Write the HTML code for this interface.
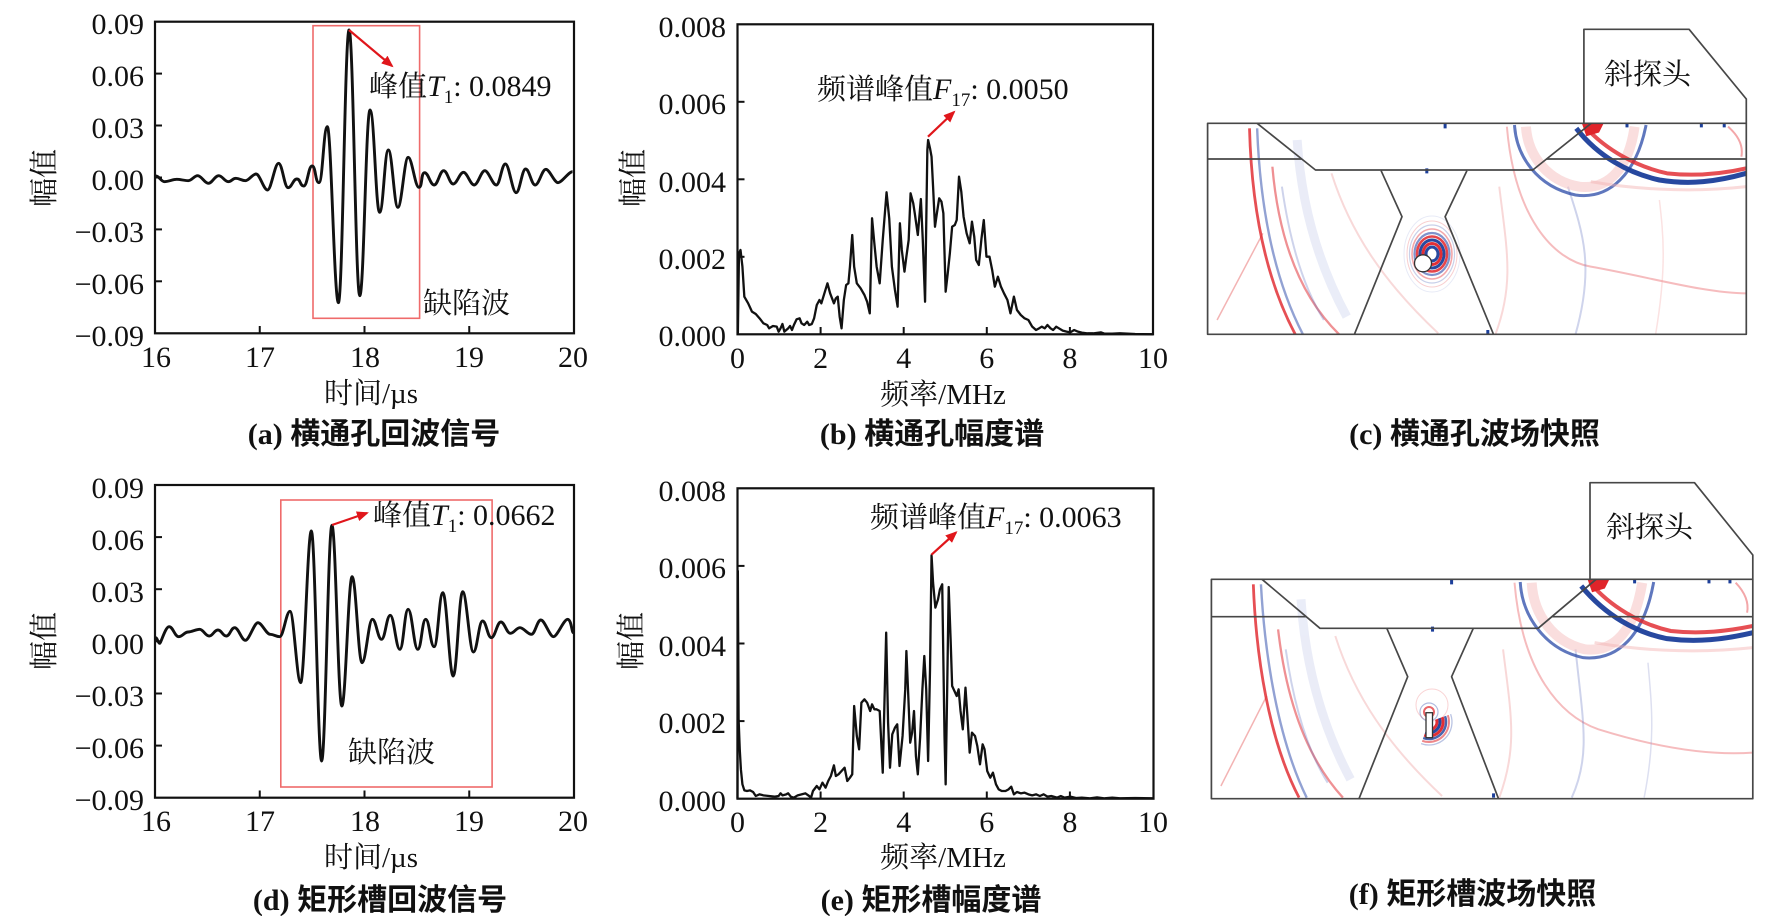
<!DOCTYPE html>
<html><head><meta charset="utf-8">
<style>
html,body{margin:0;padding:0;background:#fff;}
svg{display:block;}
.tk{font-family:"Liberation Serif",serif;font-size:30px;fill:#111;}
.cj{font-family:"Liberation Serif","Noto Serif CJK SC",serif;font-size:29px;fill:#111;}
.it{font-family:"Liberation Serif",serif;font-style:italic;}
.cap{font-family:"Liberation Serif","Noto Sans CJK SC",sans-serif;font-size:30px;font-weight:bold;fill:#111;}
</style></head>
<body>
<svg width="1770" height="916" viewBox="0 0 1770 916" xmlns="http://www.w3.org/2000/svg">
<defs>
<marker id="ah2" markerWidth="12" markerHeight="10" refX="10" refY="5" orient="auto" markerUnits="userSpaceOnUse">
<path d="M0 0 L12 5 L0 10 Z" fill="#e0161b"/>
</marker>
<clipPath id="clipc"><rect x="95" y="370" width="1413" height="633"/></clipPath>
<clipPath id="clipf"><rect x="105" y="370" width="1420" height="658"/></clipPath>
</defs>
<rect width="1770" height="916" fill="#fff"/>

<!-- ================= PANEL (a) ================= -->
<rect x="313" y="25.7" width="106.6" height="292.6" fill="none" stroke="#ef6b6b" stroke-width="1.6"/>
<g transform="translate(1.34 0) scale(0.3813 0.33333)">
<path vector-effect="non-scaling-stroke" fill="none" stroke="#111" stroke-width="2.9" stroke-linejoin="round" d="M405 528 C415 528 418 545 428 545 S450 538 460 538 S480 542 490 542 S505 527 515 527 S533 550 543 550 S560 527 570 527 S585 545 595 545 S605 535 615 535 S630 542 640 542 S658 522 668 522 S688 570 698 570 S717 490 727 490 S742 563 752 563 S765 537 775 537 S783 558 793 558 S805 498 815 498 S823 548 833 548 S845 380 855 380 S873 908 884 908 S901 90 912 90 S929 887 940 887 S956 330 967 330 S982 637 992 637 S1005 450 1015 450 S1030 622 1040 622 S1057 472 1067 472 S1085 562 1095 562 S1100 518 1110 518 S1125 555 1135 555 S1150 512 1160 512 S1175 552 1185 552 S1202 517 1212 517 S1230 555 1240 555 S1258 512 1268 512 S1288 555 1298 555 S1312 492 1322 492 S1340 578 1350 578 S1365 507 1375 507 S1390 555 1400 555 S1418 508 1428 508 S1450 548 1460 548 S1488 515 1498 515"/>
</g>
<rect x="155" y="21.7" width="419" height="311.6" fill="none" stroke="#111" stroke-width="2.2"/>
<g stroke="#111" stroke-width="2">
<line x1="155" y1="73.6" x2="162" y2="73.6"/><line x1="155" y1="125.5" x2="162" y2="125.5"/><line x1="155" y1="177.5" x2="162" y2="177.5"/><line x1="155" y1="229.4" x2="162" y2="229.4"/><line x1="155" y1="281.3" x2="162" y2="281.3"/>
<line x1="259.75" y1="333" x2="259.75" y2="326"/><line x1="364.5" y1="333" x2="364.5" y2="326"/><line x1="469.25" y1="333" x2="469.25" y2="326"/>
</g>
<g class="tk" text-anchor="end">
<text x="144" y="34">0.09</text><text x="144" y="86">0.06</text><text x="144" y="138">0.03</text><text x="144" y="190">0.00</text><text x="144" y="242">−0.03</text><text x="144" y="294">−0.06</text><text x="144" y="346">−0.09</text>
</g>
<g class="tk" text-anchor="middle">
<text x="156" y="367">16</text><text x="260" y="367">17</text><text x="365" y="367">18</text><text x="469" y="367">19</text><text x="573" y="367">20</text>
</g>
<text class="cj" x="371" y="403" text-anchor="middle">时间/µs</text>
<text class="cj" transform="translate(45 178) rotate(-90)" text-anchor="middle" dominant-baseline="central">幅值</text>
<line x1="349" y1="30" x2="392" y2="66" stroke="#e0161b" stroke-width="2.2" marker-end="url(#ah2)"/>
<text class="cj" x="369" y="96">峰值<tspan class="it" font-size="30">T</tspan><tspan font-size="19" dy="7">1</tspan><tspan font-size="30" dy="-7" font-family="Liberation Serif">: 0.0849</tspan></text>
<text class="cj" x="423" y="313">缺陷波</text>
<text class="cap" x="374" y="444" text-anchor="middle">(a) 横通孔回波信号</text>

<!-- ================= PANEL (d) ================= -->
<rect x="280.8" y="500" width="211.3" height="287" fill="none" stroke="#ef6b6b" stroke-width="1.6"/>
<g transform="translate(1.34 456) scale(0.3813 0.33333)">
<path vector-effect="non-scaling-stroke" fill="none" stroke="#111" stroke-width="2.9" stroke-linejoin="round" d="M405 545 C409 545 411 562 415 562 S430 512 440 512 S455 542 465 542 S480 528 490 528 S510 520 520 520 S535 540 545 540 S558 522 568 522 S580 540 590 540 S602 515 612 515 S630 553 640 553 S663 500 673 500 S695 535 705 535 S720 542 730 542 S747 466 757 466 S775 680 785 680 S803 225 813 225 S830 915 840 915 S857 208 867 208 S883 750 893 750 S910 362 920 362 S936 620 946 620 S963 490 973 490 S987 550 997 550 S1010 478 1020 478 S1035 580 1045 580 S1057 460 1067 460 S1082 580 1092 580 S1103 490 1113 490 S1125 572 1135 572 S1148 410 1158 410 S1175 660 1185 660 S1200 407 1210 407 S1228 588 1238 588 S1252 495 1262 495 S1275 545 1285 545 S1300 498 1310 498 S1325 532 1335 532 S1350 515 1360 515 S1380 535 1390 535 S1405 492 1415 492 S1438 542 1448 542 S1475 490 1485 490 S1496 530 1500 530"/>
</g>
<rect x="155" y="485" width="419" height="312.7" fill="none" stroke="#111" stroke-width="2.2"/>
<g stroke="#111" stroke-width="2">
<line x1="155" y1="537.1" x2="162" y2="537.1"/><line x1="155" y1="589.2" x2="162" y2="589.2"/><line x1="155" y1="641.3" x2="162" y2="641.3"/><line x1="155" y1="693.5" x2="162" y2="693.5"/><line x1="155" y1="745.6" x2="162" y2="745.6"/>
<line x1="259.75" y1="797.5" x2="259.75" y2="790.5"/><line x1="364.5" y1="797.5" x2="364.5" y2="790.5"/><line x1="469.25" y1="797.5" x2="469.25" y2="790.5"/>
</g>
<g class="tk" text-anchor="end">
<text x="144" y="498">0.09</text><text x="144" y="550">0.06</text><text x="144" y="602">0.03</text><text x="144" y="654">0.00</text><text x="144" y="706">−0.03</text><text x="144" y="758">−0.06</text><text x="144" y="810">−0.09</text>
</g>
<g class="tk" text-anchor="middle">
<text x="156" y="831">16</text><text x="260" y="831">17</text><text x="365" y="831">18</text><text x="469" y="831">19</text><text x="573" y="831">20</text>
</g>
<text class="cj" x="371" y="867" text-anchor="middle">时间/µs</text>
<text class="cj" transform="translate(45 641) rotate(-90)" text-anchor="middle" dominant-baseline="central">幅值</text>
<line x1="332" y1="525" x2="367" y2="513" stroke="#e0161b" stroke-width="2.2" marker-end="url(#ah2)"/>
<text class="cj" x="373" y="525">峰值<tspan class="it" font-size="30">T</tspan><tspan font-size="19" dy="7">1</tspan><tspan font-size="30" dy="-7" font-family="Liberation Serif">: 0.0662</tspan></text>
<text class="cj" x="348" y="762">缺陷波</text>
<text class="cap" x="380" y="910" text-anchor="middle">(d) 矩形槽回波信号</text>

<!-- ================= PANEL (b) ================= -->
<g transform="translate(601.34 0) scale(0.3813 0.33333)">
<polyline vector-effect="non-scaling-stroke" fill="none" stroke="#111" stroke-width="2.3" stroke-linejoin="round" points="358,1003 361,760 365,750 370,800 375,890 385,910 395,935 405,942 415,955 425,970 435,975 440,985 450,978 460,980 465,995 470,985 475,972 480,995 485,990 490,985 495,978 500,990 505,975 512,958 520,955 525,970 532,975 540,965 545,975 552,972 558,955 565,915 572,900 577,910 585,880 593,850 600,880 610,910 615,895 620,890 625,950 630,985 636,900 642,855 648,850 652,800 658,705 663,800 670,850 680,865 690,885 697,905 704,940 710,655 716,730 722,800 730,850 738,720 748,577 755,655 762,800 770,870 777,920 783,670 788,750 795,815 800,770 806,720 811,580 818,610 822,640 830,705 838,597 843,720 849,905 855,450 857,420 862,445 866,470 870,560 875,680 880,640 886,595 892,605 897,640 903,875 908,825 914,760 920,680 927,675 932,660 938,530 944,575 950,650 958,700 966,730 972,665 978,710 983,780 990,795 997,715 1003,660 1010,770 1018,770 1025,810 1032,860 1040,830 1048,860 1056,880 1065,900 1073,940 1082,890 1090,930 1100,945 1110,955 1120,960 1130,980 1140,990 1148,985 1155,980 1163,985 1170,975 1178,985 1185,990 1193,980 1200,985 1210,992 1220,995 1230,997 1240,990 1250,995 1260,998 1275,1000 1290,1000 1310,997 1320,1001 1340,1001 1360,1000 1380,1001 1400,1002 1447,1003"/>
</g>
<rect x="737.5" y="24.3" width="415.5" height="310" fill="none" stroke="#111" stroke-width="2.2"/>
<g stroke="#111" stroke-width="2">
<line x1="737.5" y1="101.8" x2="744.5" y2="101.8"/><line x1="737.5" y1="179.3" x2="744.5" y2="179.3"/><line x1="737.5" y1="256.8" x2="744.5" y2="256.8"/>
<line x1="820.6" y1="334" x2="820.6" y2="327"/><line x1="903.7" y1="334" x2="903.7" y2="327"/><line x1="986.8" y1="334" x2="986.8" y2="327"/><line x1="1069.9" y1="334" x2="1069.9" y2="327"/>
</g>
<g class="tk" text-anchor="end">
<text x="726" y="37">0.008</text><text x="726" y="114">0.006</text><text x="726" y="192">0.004</text><text x="726" y="269">0.002</text><text x="726" y="346">0.000</text>
</g>
<g class="tk" text-anchor="middle">
<text x="737.5" y="368">0</text><text x="820.6" y="368">2</text><text x="903.7" y="368">4</text><text x="986.8" y="368">6</text><text x="1069.9" y="368">8</text><text x="1153" y="368">10</text>
</g>
<text class="cj" x="943" y="404" text-anchor="middle">频率/MHz</text>
<text class="cj" transform="translate(634 178) rotate(-90)" text-anchor="middle" dominant-baseline="central">幅值</text>
<line x1="928" y1="136.7" x2="954" y2="112" stroke="#e0161b" stroke-width="2.2" marker-end="url(#ah2)"/>
<text class="cj" x="817" y="99">频谱峰值<tspan class="it" font-size="30">F</tspan><tspan font-size="19" dy="7" font-family="Liberation Serif">17</tspan><tspan font-size="30" dy="-7" font-family="Liberation Serif">: 0.0050</tspan></text>
<text class="cap" x="932" y="444" text-anchor="middle">(b) 横通孔幅度谱</text>

<!-- ================= PANEL (e) ================= -->
<g transform="translate(601.34 456) scale(0.3813 0.33333)">
<polyline vector-effect="non-scaling-stroke" fill="none" stroke="#111" stroke-width="2.3" stroke-linejoin="round" points="357,1028 358,345 360,790 363,880 366,940 370,985 375,1003 382,1005 390,1003 398,1008 405,1020 415,1015 425,1018 440,1020 455,1022 465,1020 470,1012 475,1018 485,1015 490,1012 497,1022 505,1025 515,1018 525,1015 535,1012 545,1020 550,1025 555,1005 565,990 572,1000 580,980 588,995 595,975 602,960 610,928 615,960 622,955 630,945 638,935 645,975 652,965 658,955 663,750 670,840 676,880 682,740 690,730 697,740 705,765 710,745 716,760 722,760 730,765 738,950 747,530 752,800 757,935 763,835 770,815 776,805 782,930 790,840 797,700 800,585 805,720 810,860 815,830 820,765 825,900 830,955 836,845 842,700 847,600 852,700 857,915 862,640 866,298 870,380 876,455 883,430 888,400 894,385 900,840 903,985 907,700 911,393 916,550 920,690 926,705 932,720 937,700 942,765 948,820 955,695 960,780 966,890 972,830 980,840 986,870 993,925 1000,865 1005,880 1012,945 1020,965 1027,950 1035,985 1042,1000 1050,1005 1060,1005 1068,1000 1075,992 1082,1015 1090,1008 1100,1012 1110,1010 1120,1015 1130,1018 1140,1015 1150,1020 1160,1015 1170,1022 1180,1020 1195,1025 1205,1020 1215,1025 1230,1022 1245,1026 1260,1025 1280,1027 1300,1024 1320,1027 1340,1025 1360,1027 1400,1026 1447,1027"/>
</g>
<rect x="737.5" y="488.3" width="416" height="310.4" fill="none" stroke="#111" stroke-width="2.2"/>
<g stroke="#111" stroke-width="2">
<line x1="737.5" y1="565.9" x2="744.5" y2="565.9"/><line x1="737.5" y1="643.5" x2="744.5" y2="643.5"/><line x1="737.5" y1="721.1" x2="744.5" y2="721.1"/>
<line x1="820.6" y1="798.5" x2="820.6" y2="791.5"/><line x1="903.7" y1="798.5" x2="903.7" y2="791.5"/><line x1="986.8" y1="798.5" x2="986.8" y2="791.5"/><line x1="1069.9" y1="798.5" x2="1069.9" y2="791.5"/>
</g>
<g class="tk" text-anchor="end">
<text x="726" y="501">0.008</text><text x="726" y="578">0.006</text><text x="726" y="656">0.004</text><text x="726" y="733">0.002</text><text x="726" y="811">0.000</text>
</g>
<g class="tk" text-anchor="middle">
<text x="737.5" y="832">0</text><text x="820.6" y="832">2</text><text x="903.7" y="832">4</text><text x="986.8" y="832">6</text><text x="1069.9" y="832">8</text><text x="1153" y="832">10</text>
</g>
<text class="cj" x="943" y="867" text-anchor="middle">频率/MHz</text>
<text class="cj" transform="translate(632 641) rotate(-90)" text-anchor="middle" dominant-baseline="central">幅值</text>
<line x1="931.5" y1="554.7" x2="956" y2="532.5" stroke="#e0161b" stroke-width="2.2" marker-end="url(#ah2)"/>
<text class="cj" x="870" y="527">频谱峰值<tspan class="it" font-size="30">F</tspan><tspan font-size="19" dy="7" font-family="Liberation Serif">17</tspan><tspan font-size="30" dy="-7" font-family="Liberation Serif">: 0.0063</tspan></text>
<text class="cap" x="931" y="910" text-anchor="middle">(e) 矩形槽幅度谱</text>

<!-- ================= PANEL (c) ================= -->
<g transform="translate(1171.34 0) scale(0.3813 0.33333)" clip-path="url(#clipc)" fill="none">
<path vector-effect="non-scaling-stroke" d="M120 960 L240 700" stroke="#f3b4b4" stroke-width="1.5"/>
<path vector-effect="non-scaling-stroke" d="M330 420 C340 600 380 780 460 950" stroke="#dde1f3" stroke-width="9" opacity="0.6"/>
<path vector-effect="non-scaling-stroke" d="M205 385 C210 600 240 820 325 1003" stroke="#e0242a" stroke-width="2.8" opacity="0.8"/>
<path vector-effect="non-scaling-stroke" d="M225 385 C232 600 262 820 345 1003" stroke="#3a56b0" stroke-width="2.4" opacity="0.55"/>
<path vector-effect="non-scaling-stroke" d="M265 500 C280 700 330 880 440 1003" stroke="#e0242a" stroke-width="2.3" opacity="0.5"/>
<path vector-effect="non-scaling-stroke" d="M290 560 C310 720 345 860 400 960" stroke="#6070c0" stroke-width="2" opacity="0.3"/>
<path vector-effect="non-scaling-stroke" d="M420 520 C470 700 560 850 700 1000" stroke="#f4c0c0" stroke-width="2" opacity="0.6"/>
<path vector-effect="non-scaling-stroke" d="M880 380 C900 650 1000 780 1100 800 C1250 830 1400 880 1508 880" stroke="#e0242a" stroke-width="2" opacity="0.3"/>
<path vector-effect="non-scaling-stroke" d="M860 560 C880 750 900 850 850 1003" stroke="#f0a0a0" stroke-width="2" opacity="0.4"/>
<path vector-effect="non-scaling-stroke" d="M1040 560 C1080 700 1110 800 1060 1003" stroke="#6070c0" stroke-width="2" opacity="0.3"/>
<path vector-effect="non-scaling-stroke" d="M1280 600 C1290 700 1300 800 1270 1003" stroke="#f0a0a0" stroke-width="1.5" opacity="0.3"/>
<path vector-effect="non-scaling-stroke" d="M930 380 C935 470 990 545 1070 560 C1150 570 1200 500 1215 380" stroke="#f6c4c4" stroke-width="10" opacity="0.55"/>
<path vector-effect="non-scaling-stroke" d="M900 375 C905 470 960 560 1060 585 C1150 600 1220 520 1245 375" stroke="#2a4aa8" stroke-width="3" opacity="0.75"/>
<path vector-effect="non-scaling-stroke" d="M1085 380 C1140 450 1220 500 1300 520 C1380 530 1450 520 1508 505" stroke="#e0242a" stroke-width="4" opacity="0.8"/>
<path vector-effect="non-scaling-stroke" d="M1062 385 C1120 470 1200 520 1280 540 C1360 555 1430 545 1508 520" stroke="#1c3f9a" stroke-width="5" opacity="0.95"/>
<path vector-effect="non-scaling-stroke" d="M1100 545 C1200 565 1350 580 1508 560" stroke="#f3b0b0" stroke-width="3" opacity="0.45"/>
<path vector-effect="non-scaling-stroke" d="M1080 372 L1130 372 L1120 395 L1090 405 Z" fill="#e0242a" stroke="#e0242a" stroke-width="2"/>
<path vector-effect="non-scaling-stroke" d="M1460 380 C1490 410 1500 440 1495 470" stroke="#e0242a" stroke-width="2" opacity="0.4"/>
<path vector-effect="non-scaling-stroke" d="M718 372 L718 385 M670 505 L670 520 M1195 372 L1195 382 M1390 372 L1390 382 M1450 372 L1450 382 M830 990 L830 1003" stroke="#1c3f9a" stroke-width="3"/>
</g>
<!-- hole rings (c) -->
<g fill="none">
<ellipse cx="1432" cy="254" rx="28" ry="38" stroke="#6070c0" stroke-width="1" opacity="0.15"/>
<ellipse cx="1432" cy="254" rx="25" ry="33" stroke="#e0242a" stroke-width="1" opacity="0.22"/>
<ellipse cx="1432" cy="254" rx="22.5" ry="29" stroke="#3a56b0" stroke-width="1.2" opacity="0.28"/>
<ellipse cx="1432" cy="254" rx="20" ry="25" stroke="#e0242a" stroke-width="1.6" opacity="0.4"/>
<ellipse cx="1432" cy="254" rx="17.5" ry="21" stroke="#2a4aa8" stroke-width="2.2" opacity="0.6"/>
<ellipse cx="1432" cy="254" rx="15" ry="17.5" stroke="#e0242a" stroke-width="2.6" opacity="0.85"/>
<ellipse cx="1432" cy="254" rx="12" ry="14" stroke="#1c3f9a" stroke-width="3" opacity="0.95"/>
<ellipse cx="1432" cy="254" rx="9" ry="10.5" stroke="#e0242a" stroke-width="3" opacity="0.95"/>
<ellipse cx="1432" cy="254" rx="6" ry="7" stroke="#1c3f9a" stroke-width="3" opacity="0.95"/>
</g>
<circle cx="1423" cy="263.3" r="8.5" fill="#fff" stroke="#333" stroke-width="1.3"/>
<!-- geometry (c) -->
<g fill="none" stroke="#474747" stroke-width="1.7" stroke-linejoin="round">
<rect x="1207.6" y="123.3" width="538.7" height="211"/>
<polyline points="1583.9,123.3 1583.9,29.3 1689.1,29.3 1746.3,99 1746.3,123.3"/>
<line x1="1207.6" y1="159" x2="1301.7" y2="159"/>
<line x1="1546.5" y1="159" x2="1746.3" y2="159"/>
<polyline points="1257.1,123.3 1315.5,170 1532.8,170 1591.2,123.3"/>
<polyline points="1381.1,170.7 1402,216.7 1354.4,334.3"/>
<polyline points="1466.9,170.7 1445.1,216.7 1493.5,334.3"/>
</g>
<text class="cj" x="1604" y="84" font-size="30">斜探头</text>
<text class="cap" x="1474.5" y="444" text-anchor="middle">(c) 横通孔波场快照</text>

<!-- ================= PANEL (f) ================= -->
<g transform="translate(1171.34 456) scale(0.3813 0.33333)" clip-path="url(#clipf)" fill="none">
<path vector-effect="non-scaling-stroke" d="M130 990 L250 720" stroke="#f3b4b4" stroke-width="1.5"/>
<path vector-effect="non-scaling-stroke" d="M340 430 C350 610 390 800 470 970" stroke="#dde1f3" stroke-width="9" opacity="0.6"/>
<path vector-effect="non-scaling-stroke" d="M215 385 C222 600 255 850 335 1025" stroke="#e0242a" stroke-width="2.8" opacity="0.8"/>
<path vector-effect="non-scaling-stroke" d="M235 385 C245 600 280 850 355 1025" stroke="#3a56b0" stroke-width="2.4" opacity="0.55"/>
<path vector-effect="non-scaling-stroke" d="M280 520 C300 720 350 900 450 1025" stroke="#e0242a" stroke-width="2.3" opacity="0.5"/>
<path vector-effect="non-scaling-stroke" d="M300 580 C320 740 355 880 410 980" stroke="#6070c0" stroke-width="2" opacity="0.3"/>
<path vector-effect="non-scaling-stroke" d="M430 540 C480 720 570 870 710 1020" stroke="#f4c0c0" stroke-width="2" opacity="0.6"/>
<path vector-effect="non-scaling-stroke" d="M900 380 C920 650 1020 780 1120 820 C1260 870 1400 900 1525 890" stroke="#e0242a" stroke-width="2" opacity="0.3"/>
<path vector-effect="non-scaling-stroke" d="M870 580 C890 770 910 870 860 1025" stroke="#f0a0a0" stroke-width="2" opacity="0.4"/>
<path vector-effect="non-scaling-stroke" d="M1060 580 C1080 800 1100 900 1050 1025" stroke="#6070c0" stroke-width="2" opacity="0.3"/>
<path vector-effect="non-scaling-stroke" d="M1250 620 C1260 750 1270 850 1240 1025" stroke="#9098d0" stroke-width="1.5" opacity="0.3"/>
<path vector-effect="non-scaling-stroke" d="M945 380 C950 480 1005 560 1085 580 C1165 590 1215 520 1235 380" stroke="#f6c4c4" stroke-width="10" opacity="0.55"/>
<path vector-effect="non-scaling-stroke" d="M915 378 C920 480 980 580 1080 605 C1170 615 1240 540 1265 378" stroke="#2a4aa8" stroke-width="3" opacity="0.75"/>
<path vector-effect="non-scaling-stroke" d="M1098 380 C1150 450 1230 505 1310 525 C1390 535 1460 525 1525 510" stroke="#e0242a" stroke-width="4" opacity="0.8"/>
<path vector-effect="non-scaling-stroke" d="M1075 390 C1140 480 1220 530 1300 548 C1380 560 1450 550 1525 530" stroke="#1c3f9a" stroke-width="5" opacity="0.95"/>
<path vector-effect="non-scaling-stroke" d="M1110 560 C1210 580 1360 595 1525 575" stroke="#f3b0b0" stroke-width="3" opacity="0.45"/>
<path vector-effect="non-scaling-stroke" d="M1095 372 L1145 372 L1135 395 L1105 405 Z" fill="#e0242a" stroke="#e0242a" stroke-width="2"/>
<path vector-effect="non-scaling-stroke" d="M1480 380 C1505 410 1515 440 1510 470" stroke="#e0242a" stroke-width="2" opacity="0.4"/>
<path vector-effect="non-scaling-stroke" d="M735 372 L735 385 M685 512 L685 527 M1215 372 L1215 382 M1410 372 L1410 382 M1465 372 L1465 382 M845 1012 L845 1025" stroke="#1c3f9a" stroke-width="3"/>
</g>
<!-- slot waves (f) -->
<g fill="none">
<path d="M1450.6 714.1 A23 23 0 0 1 1421.1 743.6" stroke="#3a56b0" stroke-width="1.3" opacity="0.35"/>
<path d="M1447.8 715.2 A20 20 0 0 1 1422.2 740.8" stroke="#e0242a" stroke-width="2" opacity="0.55"/>
<path d="M1445 716.2 A17 17 0 0 1 1423.2 738" stroke="#1c3f9a" stroke-width="2.5" opacity="0.8"/>
<path d="M1442.2 717.2 A14 14 0 0 1 1424.2 735.2" stroke="#e0242a" stroke-width="3" opacity="0.95"/>
<path d="M1439.3 718.2 A11 11 0 0 1 1425.2 732.3" stroke="#1c3f9a" stroke-width="3" opacity="0.95"/>
<path d="M1436.5 719.3 A8 8 0 0 1 1426.3 729.5" stroke="#e0242a" stroke-width="3" opacity="0.95"/>
<circle cx="1429" cy="712" r="5" stroke="#e0242a" stroke-width="2" opacity="0.7"/>
<circle cx="1429" cy="712" r="9" stroke="#3a56b0" stroke-width="1.2" opacity="0.4"/>
<circle cx="1432" cy="705" r="16" stroke="#e0242a" stroke-width="1" opacity="0.2"/>
</g>
<rect x="1426" y="712.7" width="6.5" height="25" fill="#fff" stroke="#333" stroke-width="1.3"/>
<!-- geometry (f) -->
<g fill="none" stroke="#474747" stroke-width="1.7" stroke-linejoin="round">
<rect x="1211.4" y="579.3" width="541.4" height="219.4"/>
<polyline points="1590,579.3 1590,482.7 1694.5,482.7 1752.8,555 1752.8,579.3"/>
<line x1="1211.4" y1="616.7" x2="1306" y2="616.7"/>
<line x1="1552.3" y1="616.7" x2="1752.8" y2="616.7"/>
<polyline points="1262,579.3 1320,628.3 1538.1,628.3 1596.1,579.3"/>
<polyline points="1386.8,628.3 1407.7,676.7 1359,798.7"/>
<polyline points="1473.3,628.3 1451.6,676.7 1498.5,798.7"/>
</g>
<text class="cj" x="1606" y="537" font-size="30">斜探头</text>
<text class="cap" x="1472.5" y="904" text-anchor="middle">(f) 矩形槽波场快照</text>
</svg>
</body></html>
